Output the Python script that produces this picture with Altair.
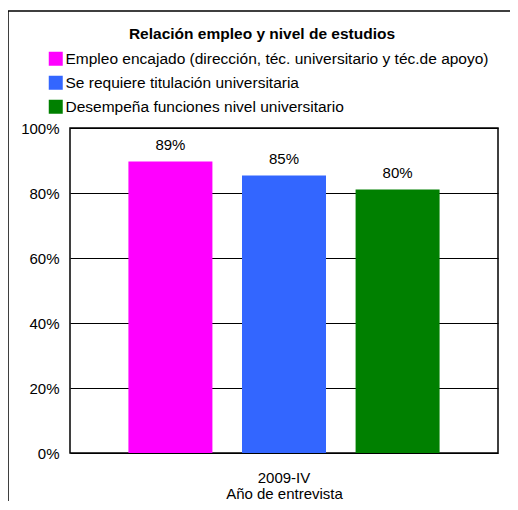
import altair as alt
import pandas as pd

series = [
    "Empleo encajado (dirección, téc. universitario y téc.de apoyo)",
    "Se requiere titulación universitaria",
    "Desempeña funciones nivel universitario",
]
values = [0.897, 0.854, 0.811]
labels = ["89%", "85%", "80%"]
colors = ["#FF00FF", "#3366FF", "#008000"]
period = "2009-IV"
y_ticks = [0, 0.2, 0.4, 0.6, 0.8, 1.0]

df = pd.DataFrame({
    "periodo": [period] * len(series),
    "serie": series,
    "valor": values,
    "etiqueta": labels,
})

FONT = "Liberation Sans"
FS = 15

x_enc = alt.X(
    "periodo:N",
    title="Año de entrevista",
    scale=alt.Scale(paddingInner=0, paddingOuter=0.128),
    axis=alt.Axis(labelAngle=0, domain=False, ticks=False, labelPadding=17,
                  titlePadding=1, labelFontSize=FS, titleFontSize=FS,
                  titleFontWeight="normal", labelColor="black", titleColor="black",
                  labelFont=FONT, titleFont=FONT),
)
xoff = alt.XOffset("serie:N", sort=series,
                   scale=alt.Scale(paddingInner=0.26, paddingOuter=0.13))
y_enc = alt.Y(
    "valor:Q",
    title=None,
    scale=alt.Scale(domain=[0, 1], nice=False),
    axis=alt.Axis(values=y_ticks, format=".0%", domain=False, ticks=False,
                  grid=True, gridColor="black", gridWidth=1, gridOpacity=1,
                  labelPadding=11, labelFontSize=FS, labelColor="black",
                  labelFont=FONT),
)

base = alt.Chart(df)

bars = base.mark_bar(size=84).encode(
    x=x_enc,
    xOffset=xoff,
    y=y_enc,
    color=alt.Color(
        "serie:N", sort=series,
        scale=alt.Scale(domain=series, range=colors),
        legend=alt.Legend(
            title=None, orient="none", legendX=-22, legendY=-77,
            symbolType="square", symbolSize=196, symbolStrokeWidth=0,
            symbolOpacity=1, labelFontSize=15.5, labelFont=FONT,
            labelColor="black", labelLimit=600, labelOffset=2,
            rowPadding=7, padding=0,
        ),
    ),
)

text = base.mark_text(baseline="bottom", dy=-8, fontSize=FS, font=FONT,
                      color="black").encode(
    x=alt.X("periodo:N"),
    xOffset=alt.XOffset("serie:N", sort=series),
    y=alt.Y("valor:Q"),
    text="etiqueta:N",
)

frame = alt.Chart(pd.DataFrame({"k": [0]})).mark_rect(
    filled=False, stroke="black", strokeWidth=1.5
).encode(
    x=alt.value(-62), x2=alt.value(470), y=alt.value(-117), y2=alt.value(420)
)

chart = alt.layer(bars, text, frame).properties(
    width=428,
    height=325,
    title=alt.TitleParams(
        "Relación empleo y nivel de estudios", font=FONT, fontSize=15.5,
        fontWeight="bold", anchor="middle", dx=-22, offset=-47, color="black",
        baseline="bottom",
    ),
    autosize=alt.AutoSizeParams(type="none"),
    padding={"left": 62, "top": 120, "right": 12, "bottom": 48},
).configure_view(stroke="black", strokeWidth=1.5)

chart.save("out.html", embed_options={"renderer": "svg", "actions": False})
